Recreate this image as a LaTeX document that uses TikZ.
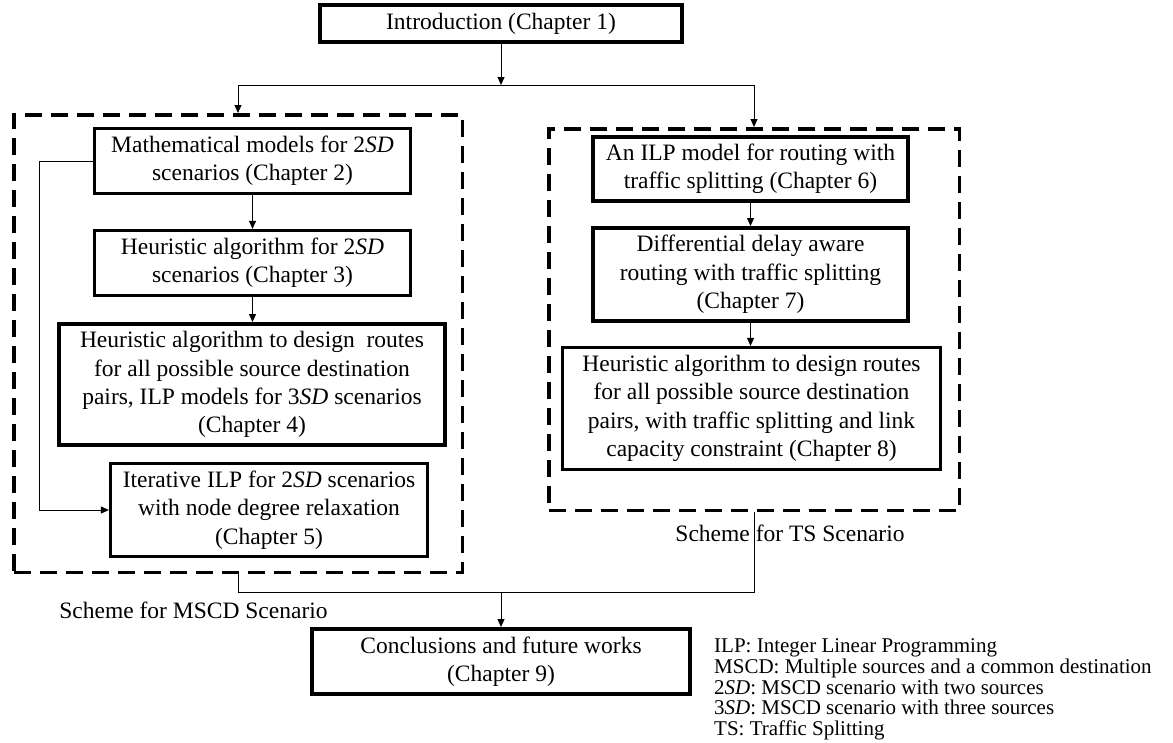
\documentclass[tikz,border=0pt]{standalone}
\usepackage{fontspec}
\setmainfont{Liberation Serif}
\usetikzlibrary{arrows.meta}
\begin{document}
\begin{tikzpicture}[x=1pt,y=-1pt,
  box/.style={draw, line width=3.2pt, inner sep=0pt, align=center, font=\fontsize{23.5}{28.3}\selectfont},
  thickbox/.style={box, line width=4pt},
  scheme/.style={draw, line width=3.5pt, dash pattern=on 17pt off 9pt, inner sep=0pt},
  conn/.style={line width=1pt},
  arr/.style={conn, -{Triangle[length=8pt,width=7pt]}},
  lbl/.style={inner sep=0pt, font=\fontsize{23.5}{28.3}\selectfont},
  legendtext/.style={inner sep=0pt, align=left, font=\fontsize{21}{20.6}\selectfont},
]
\useasboundingbox (0,0) rectangle (1173,742);

% scheme frames
\node[scheme, minimum width=448.5pt, minimum height=457.5pt] (lm) at (238,343.5) {};
\node[scheme, minimum width=410.5pt, minimum height=381.5pt] (rt) at (754,319.5) {};

% boxes
\node[thickbox, minimum width=362pt, minimum height=37pt] (intro) at (501,23.5) {Introduction (Chapter 1)};
\node[box, minimum width=316pt, minimum height=65pt] (b2) at (252.5,161) {Mathematical models for 2\textit{SD}\\ scenarios (Chapter 2)};
\node[box, minimum width=316pt, minimum height=65pt] (b3) at (252.5,263) {Heuristic algorithm for 2\textit{SD}\\ scenarios (Chapter 3)};
\node[thickbox, minimum width=386pt, minimum height=121pt] (b4) at (252,384.5) {Heuristic algorithm to design\ \ routes\\ for all possible source destination\\ pairs, ILP models for 3\textit{SD} scenarios\\ (Chapter 4)};
\node[box, minimum width=317pt, minimum height=93pt] (b5) at (269,510) {Iterative ILP for 2\textit{SD} scenarios\\ with node degree relaxation\\ (Chapter 5)};
\node[thickbox, minimum width=315pt, minimum height=64pt] (b6) at (750.5,169) {An ILP model for routing with\\ traffic splitting (Chapter 6)};
\node[thickbox, minimum width=315pt, minimum height=93pt] (b7) at (750.5,274.5) {Differential delay aware\\ routing with traffic splitting\\ (Chapter 7)};
\node[box, minimum width=378pt, minimum height=122pt] (b8) at (751.5,408.5) {Heuristic algorithm to design routes\\ for all possible source destination\\ pairs, with traffic splitting and link\\ capacity constraint (Chapter 8)};
\node[thickbox, minimum width=378pt, minimum height=65pt] (concl) at (501,661.5) {Conclusions and future works\\ (Chapter 9)};

% labels
\node[lbl] (lml) at (193.5,610) {Scheme for MSCD Scenario};
\node[lbl] (rtl) at (790,533) {Scheme for TS Scenario};

% legend
\node[legendtext, anchor=south west] (legend) at (714,740) {ILP: Integer Linear Programming\\ MSCD: Multiple sources and a common destination\\ 2\textit{SD}: MSCD scenario with two sources\\ 3\textit{SD}: MSCD scenario with three sources\\ TS: Traffic Splitting};

% connectors
\coordinate (j1) at (501,85);
\coordinate (j2) at (501,592);
\draw[arr] (intro.south) -- (j1);
\draw[conn] (lm.north |- j1) -- (rt.north |- j1);
\draw[arr] (lm.north |- j1) -- (lm.north);
\draw[arr] (rt.north |- j1) -- (rt.north);
\draw[arr] (b2.south) -- (b3.north);
\draw[arr] (b3.south) -- (b3.south |- b4.north);
\draw[arr] (b2.west) -- ++(-53,0) |- (b5.west);
\draw[arr] (b6.south) -- (b7.north);
\draw[arr] (b7.south) -- (b7.south |- b8.north);
\draw[conn] (lm.south) -- (lm.south |- j2) -| (rt.south);
\draw[arr] (j2) -- (concl.north);
\end{tikzpicture}
\end{document}
